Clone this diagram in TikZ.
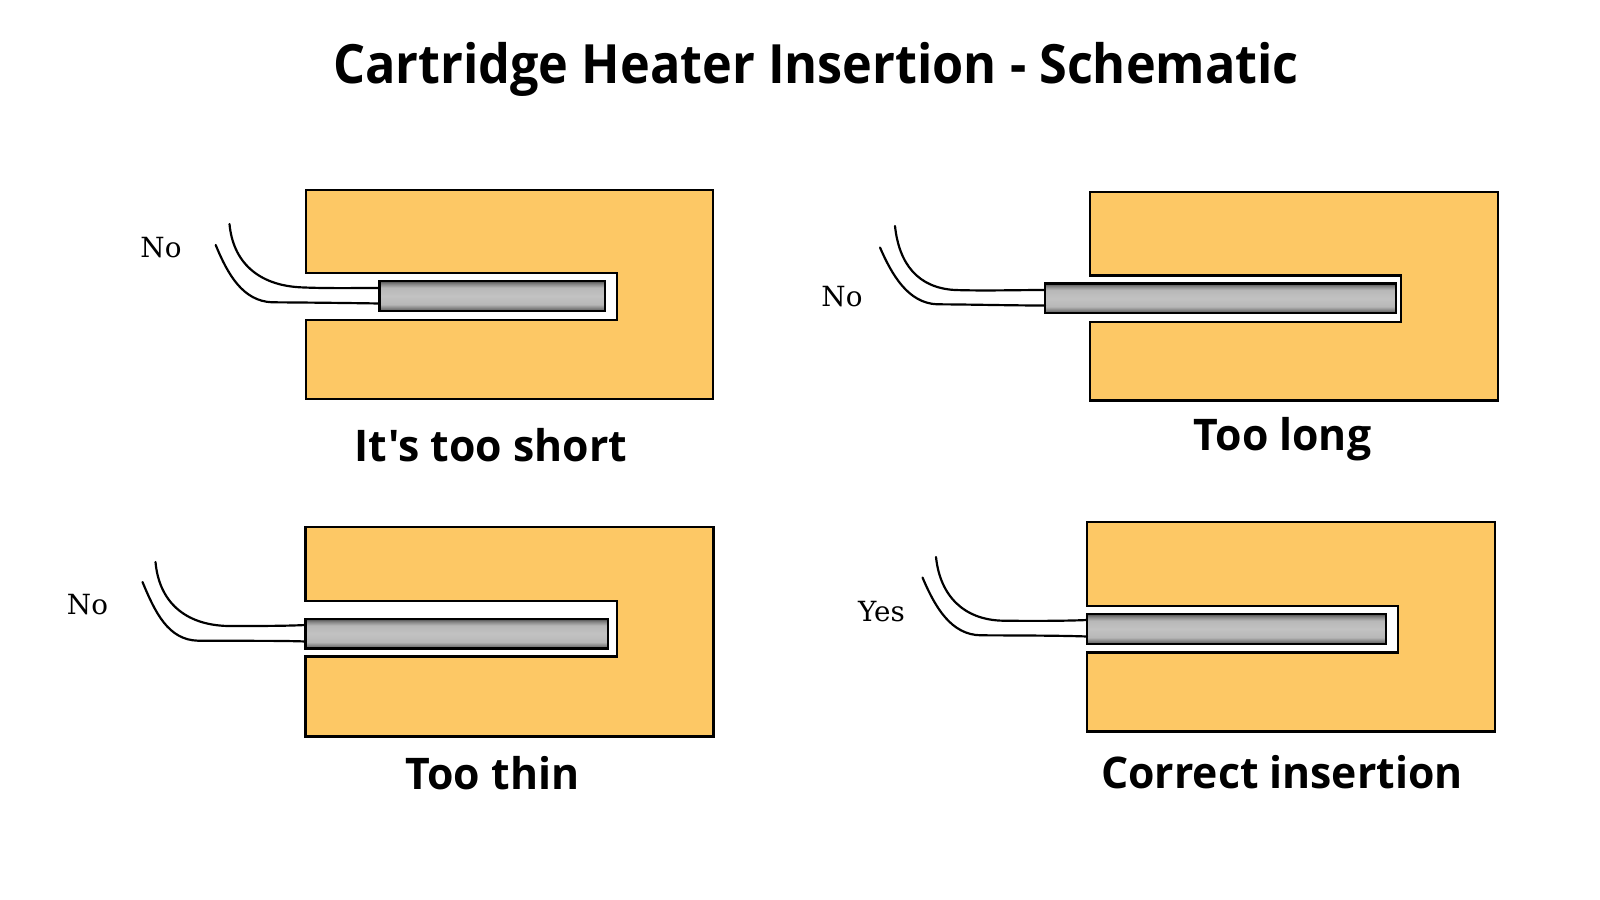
\documentclass[tikz,border=0pt]{standalone}
\usepackage{fontspec}
\newfontfamily\headfont{Open Sans}[FakeStretch=0.93]
\newfontfamily\capfont{Open Sans}[FakeStretch=0.98]
\newfontfamily\verdictfont{DejaVu Serif}
\definecolor{blockfill}{HTML}{FDC865}
\pgfdeclareverticalshading{heatshade}{100bp}{
  color(0bp)=(black!65);color(25bp)=(black!65);color(29bp)=(black!52);color(36bp)=(black!28);color(50bp)=(black!24);color(64bp)=(black!28);color(71bp)=(black!50);color(75bp)=(black!70);color(100bp)=(black!70)}
\tikzset{
  x=0.01cm,y=-0.01cm,
  block/.style={draw=black,fill=blockfill,line width=0.6pt,line join=miter},
  heater/.style={draw=black,line width=0.8pt,shading=heatshade},
  wire/.style={draw=black,line width=0.62pt,line cap=round},
  titletext/.style={font=\headfont\fontsize{15.4}{18}\selectfont\bfseries,anchor=base,inner sep=0pt},
  caption/.style={font=\capfont\fontsize{12.4}{15}\selectfont\bfseries,anchor=base,inner sep=0pt},
  verdict/.style={font=\verdictfont\fontsize{7.9}{10}\selectfont,anchor=center,inner sep=0pt},
}
\newcommand{\panelblock}[7]{%
  \draw[block] (#1,#5) -- (#1,#3) -- (#2,#3) -- (#2,#4) -- (#1,#4) -- (#1,#6) -- (#7,#6) -- (#7,#5) -- cycle;}
\begin{document}
\begin{tikzpicture}
\useasboundingbox (0,0) rectangle (1600,900);
\fill[white] (0,0) rectangle (1600,900);
\node[titletext] (title) at (816,83) {Cartridge Heater Insertion - Schematic};

% too short
\panelblock{306}{713}{190}{399}{273}{320}{617}
\path[heater] (379.5,281) rectangle (605,311);
\coordinate (a1) at (379.5,288); \coordinate (a2) at (379.5,303.5);
\draw[wire] (229.5,224) .. controls (233,262) and (258,285) .. (300,287.3) .. controls (325,288.5) and (350,288) .. (a1);
\draw[wire] (215.7,245) .. controls (228,275) and (243,301) .. (272,302.3) .. controls (305,302.5) and (350,303) .. (a2);
\node[verdict] (v1) at (161,247.5) {No};
\node[caption] (c1) at (491,461.5) {It's too short};

% too long
\panelblock{1090}{1498}{192}{400.5}{275.5}{322}{1401}
\path[heater] (1045,283.5) rectangle (1396,313);
\coordinate (b1) at (1045,290); \coordinate (b2) at (1045,305.5);
\draw[wire] (895,226) .. controls (899,264) and (918,288) .. (955,290) .. controls (985,291) and (1015,290) .. (b1);
\draw[wire] (880,247.5) .. controls (892,275) and (908,303) .. (937,304.3) .. controls (975,304.5) and (1010,305.5) .. (b2);
\node[verdict] (v2) at (842,297) {No};
\node[caption] (c2) at (1282.5,450) {Too long};

% too thin
\panelblock{305.5}{713.5}{527}{736.5}{601}{656.5}{617}
\path[heater] (305.5,619) rectangle (608,648.5);
\coordinate (d1) at (305.5,625); \coordinate (d2) at (305.5,641.5);
\draw[wire] (155.5,562) .. controls (159,601) and (184,625) .. (228,626) .. controls (260,626) and (285,626) .. (d1);
\draw[wire] (142.5,582) .. controls (155,612) and (168,640) .. (198,640.7) .. controls (240,641) and (280,640.5) .. (d2);
\node[verdict] (v3) at (87.5,605) {No};
\node[caption] (c3) at (492.5,789) {Too thin};

% correct
\panelblock{1087}{1495}{522}{731.5}{606}{652.5}{1398}
\path[heater] (1087,614) rectangle (1386,644);
\coordinate (e1) at (1087,620); \coordinate (e2) at (1087,636.5);
\draw[wire] (936,557) .. controls (940,596) and (964,620) .. (1003,620.7) .. controls (1030,621) and (1065,621) .. (e1);
\draw[wire] (922.5,577.5) .. controls (935,607) and (951,635) .. (981,635.3) .. controls (1020,635.5) and (1060,635.5) .. (e2);
\node[verdict] (v4) at (881.5,612) {Yes};
\node[caption] (c4) at (1282,788) {Correct insertion};
\end{tikzpicture}
\end{document}
